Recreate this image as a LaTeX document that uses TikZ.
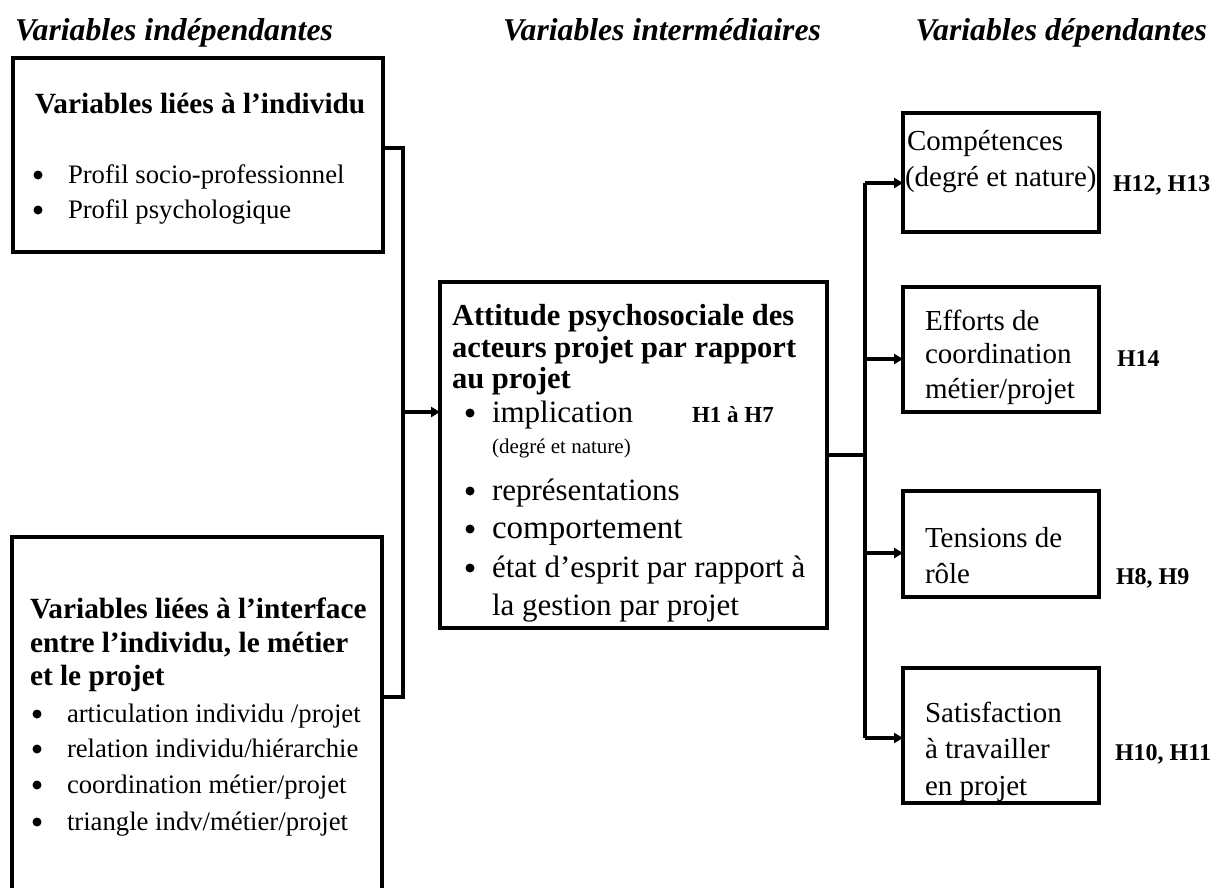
\documentclass[tikz,border=0pt]{standalone}
\usepackage{fontspec}
\setmainfont{Liberation Serif}
\usetikzlibrary{arrows.meta}
\tikzset{
  box/.style={draw, line width=3.3pt, inner sep=0pt, outer sep=0pt, anchor=north west},
  conn/.style={line width=3.3pt},
  arr/.style={line width=3.3pt, -{Triangle[length=9pt,width=10pt]}},
  txt/.style={anchor=base west, inner sep=0pt, outer sep=0pt},
  bul/.style={circle, fill, inner sep=0pt, outer sep=0pt, minimum size=9pt},
  ttl/.style={txt, font=\fontsize{31.7}{36}\selectfont\bfseries\itshape},
  lhead/.style={txt, font=\fontsize{29.3}{33}\selectfont\bfseries},
  lreg/.style={txt, font=\fontsize{26.7}{30}\selectfont},
  chead/.style={txt, font=\fontsize{30.5}{35}\selectfont\bfseries},
  creg/.style={txt, font=\fontsize{31}{36}\selectfont},
  cbig/.style={txt, font=\fontsize{33}{36}\selectfont},
  csmall/.style={txt, font=\fontsize{21}{24}\selectfont},
  csmallb/.style={txt, font=\fontsize{23}{26}\selectfont\bfseries},
  rreg/.style={txt, font=\fontsize{29}{33}\selectfont},
  hlab/.style={txt, font=\fontsize{24}{28}\selectfont\bfseries}
}
\begin{document}
\begin{tikzpicture}[x=1pt,y=-1pt]
\useasboundingbox (0,0) rectangle (1217,887);
% titles
\node[ttl] (t1) at (15,40) {Variables indépendantes};
\node[ttl] (t2) at (503,40) {Variables intermédiaires};
\node[ttl, anchor=base east] (t3) at (1207,40) {Variables dépendantes};
% boxes
\node[box, minimum width=370pt, minimum height=194pt] (b1) at (13,58) {};
\node[box, minimum width=370pt, minimum height=363pt] (b2) at (12,537) {};
\node[box, minimum width=387pt, minimum height=346pt] (c) at (440,282) {};
\node[box, minimum width=196pt, minimum height=119pt] (r1) at (903,113) {};
\node[box, minimum width=196pt, minimum height=125pt] (r2) at (903,287) {};
\node[box, minimum width=196pt, minimum height=106pt] (r3) at (903,491) {};
\node[box, minimum width=196pt, minimum height=135pt] (r4) at (903,668) {};
% left top box text
\node[lhead] (b1h) at (35,113) {Variables liées à l’individu};
\node[bul] (b1b1) at (38,175) {};
\node[lreg] (b1l1) at (68,183) {Profil socio-professionnel};
\node[bul] (b1b2) at (38,210) {};
\node[lreg] (b1l2) at (68,218) {Profil psychologique};
% left bottom box text
\node[lhead] (b2h1) at (30,618) {Variables liées à l’interface};
\node[lhead] (b2h2) at (30,652) {entre l’individu, le métier};
\node[lhead] (b2h3) at (30,685) {et le projet};
\node[bul] (b2b1) at (37,714) {};
\node[lreg] (b2l1) at (67,722) {articulation individu /projet};
\node[bul] (b2b2) at (37,749) {};
\node[lreg] (b2l2) at (67,757) {relation individu/hiérarchie};
\node[bul] (b2b3) at (37,785) {};
\node[lreg] (b2l3) at (67,793) {coordination métier/projet};
\node[bul] (b2b4) at (37,822) {};
\node[lreg] (b2l4) at (67,830) {triangle indv/métier/projet};
% centre box text
\node[chead] (ch1) at (452,325) {Attitude psychosociale des};
\node[chead] (ch2) at (452,357) {acteurs projet par rapport};
\node[chead] (ch3) at (452,388) {au projet};
\node[bul] (cb1) at (470,413) {};
\node[creg] (cl1) at (492,422) {implication};
\node[csmallb] (ch17) at (692,422) {H1 à H7};
\node[csmall] (cl1b) at (492,453) {(degré et nature)};
\node[bul] (cb2) at (470,491) {};
\node[creg] (cl2) at (492,500) {représentations};
\node[bul] (cb3) at (470,529) {};
\node[cbig] (cl3) at (492,538) {comportement};
\node[bul] (cb4) at (470,568) {};
\node[creg] (cl4) at (492,577) {état d’esprit par rapport à};
\node[creg] (cl5) at (492,615) {la gestion par projet};
% right boxes text
\node[rreg] (r1a) at (907,150) {Compétences};
\node[rreg] (r1b) at (905,186) {(degré et nature)};
\node[rreg] (r2a) at (925,330) {Efforts de};
\node[rreg] (r2b) at (925,363) {coordination};
\node[rreg] (r2c) at (925,398) {métier/projet};
\node[rreg] (r3a) at (925,547) {Tensions de};
\node[rreg] (r3b) at (925,583) {rôle};
\node[rreg] (r4a) at (925,722) {Satisfaction};
\node[rreg] (r4b) at (925,758) {à travailler};
\node[rreg] (r4c) at (925,795) {en projet};
% hypothesis labels
\node[hlab] (h1) at (1113,191) {H12, H13};
\node[hlab] (h2) at (1117,366) {H14};
\node[hlab] (h3) at (1116,584) {H8, H9};
\node[hlab] (h4) at (1115,760) {H10, H11};
% left connectors
\coordinate (j1) at (403,148);
\coordinate (j2) at (403,697);
\coordinate (j3) at (403,412);
\draw[conn] (b1.north east |- j1) -- (j1) -- (j2) -- (b2.north east |- j2);
\draw[arr] (j3) -- (c.west |- j3);
% right connectors
\coordinate (k0) at (865,455);
\coordinate (k1) at (865,183);
\coordinate (k2) at (865,359);
\coordinate (k3) at (865,553);
\coordinate (k4) at (865,738);
\draw[conn] (c.east |- k0) -- (k0);
\draw[conn] (k1) -- (k4);
\draw[arr] (k1) -- (r1.west |- k1);
\draw[arr] (k2) -- (r2.west |- k2);
\draw[arr] (k3) -- (r3.west |- k3);
\draw[arr] (k4) -- (r4.west |- k4);
\end{tikzpicture}
\end{document}
